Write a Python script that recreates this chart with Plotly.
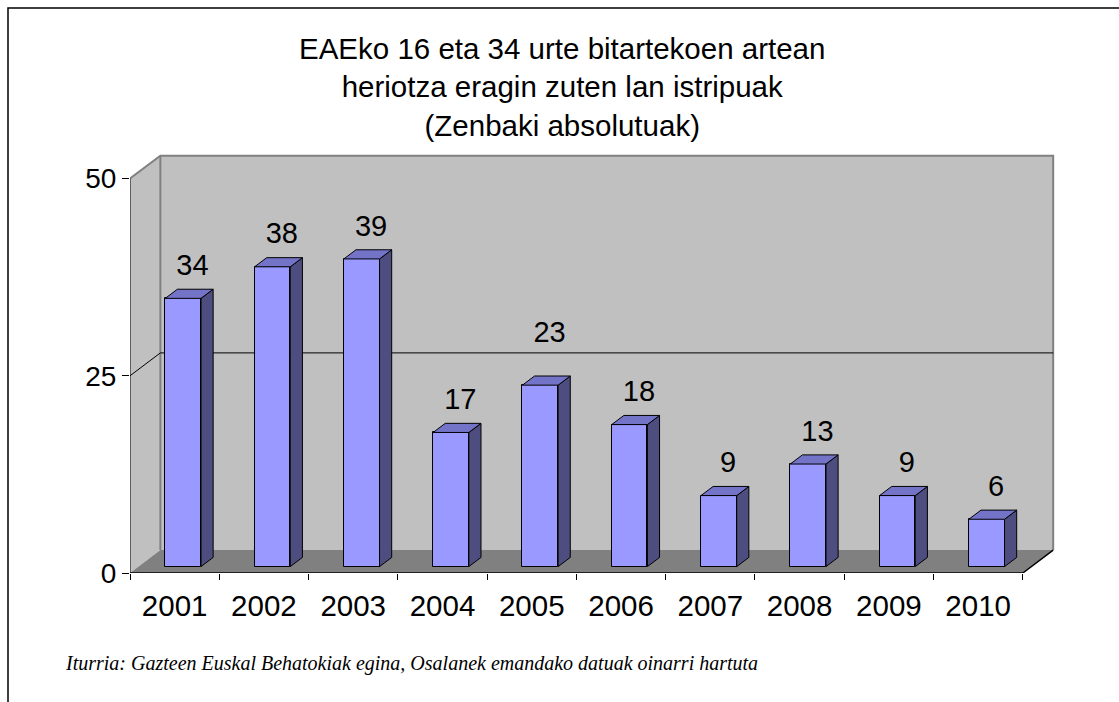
import plotly.graph_objects as go

# ---- data ----
years = ["2001", "2002", "2003", "2004", "2005", "2006", "2007", "2008", "2009", "2010"]
deaths = [34, 38, 39, 17, 23, 18, 9, 13, 9, 6]
y_ticks = [0, 25, 50]
title_lines = ["EAEko 16 eta 34 urte bitartekoen artean",
               "heriotza eragin zuten lan istripuak",
               "(Zenbaki absolutuak)"]
source_text = "Iturria: Gazteen Euskal Behatokiak egina, Osalanek emandako datuak oinarri hartuta"

# ---- geometry / style ----
N = len(years)
centers = [i + 0.5 for i in range(N)]
WALL_TOP = max(y_ticks)
DX, DY = 0.34, 2.9          # depth offset of the back wall (axis units)
BAR_W = 0.40
F0, FD = 0.28, 0.40         # bar front position / bar depth as fraction of depth
ox0, oy0 = F0 * DX, F0 * DY
bdx, bdy = FD * DX, FD * DY

FRONT = "#9999FF"
TOP = "#7373C8"
SIDE = "#4D4D80"
WALL = "#C0C0C0"
FLOOR = "#808080"
FONT = "Liberation Sans, Arial, sans-serif"

W_FIG, H_FIG = 1119, 702
L, R, T, B = 130, 56, 147, 129
PW, PH = W_FIG - L - R, H_FIG - T - B
X_MAX = N + 0.45
Y_MAX = 54


def px(x):
    return (x - L) / PW


def py(y):
    return (H_FIG - B - y) / PH


x_front = [c + ox0 for c in centers]

fig = go.Figure()

# front faces of the bars
fig.add_trace(go.Bar(
    x=x_front, y=deaths, base=[oy0] * N, width=BAR_W,
    marker=dict(color=FRONT, line=dict(color="black", width=1)),
    hoverinfo="skip", showlegend=False))

# side and top faces
sx, sy = [], []
tx, ty = [], []
for xf, v in zip(x_front, deaths):
    xl, xr = xf - BAR_W / 2, xf + BAR_W / 2
    top = oy0 + v
    sx += [xr, xr + bdx, xr + bdx, xr, xr, None]
    sy += [oy0, oy0 + bdy, top + bdy, top, oy0, None]
    tx += [xl, xr, xr + bdx, xl + bdx, xl, None]
    ty += [top, top, top + bdy, top + bdy, top, None]

fig.add_trace(go.Scatter(x=sx, y=sy, mode="lines", fill="toself", fillcolor=SIDE,
                         line=dict(color="black", width=1), hoverinfo="skip", showlegend=False))
fig.add_trace(go.Scatter(x=tx, y=ty, mode="lines", fill="toself", fillcolor=TOP,
                         line=dict(color="black", width=1), hoverinfo="skip", showlegend=False))

# data labels
label_nudge = {"2005": 2.5}
fig.add_trace(go.Scatter(
    x=[c + 0.2 for c in centers],
    y=[v + 4.7 + label_nudge.get(yr, 0) for yr, v in zip(years, deaths)],
    mode="text", text=[str(v) for v in deaths],
    textfont=dict(family=FONT, size=29, color="black"),
    textposition="middle center", cliponaxis=False, hoverinfo="skip", showlegend=False))

# dummy trace for the boundary-tick axis
fig.add_trace(go.Scatter(x=[0], y=[0], xaxis="x2", yaxis="y", mode="markers",
                         marker=dict(opacity=0), hoverinfo="skip", showlegend=False))

shapes = []
# left side wall
shapes.append(dict(type="path", xref="x", yref="y", layer="below",
                   path=f"M 0,0 L {DX},{DY} L {DX},{WALL_TOP + DY} L 0,{WALL_TOP} Z",
                   fillcolor=WALL, line=dict(width=0)))
# back wall
shapes.append(dict(type="rect", xref="x", yref="y", layer="below",
                   x0=DX, x1=N + DX, y0=DY, y1=WALL_TOP + DY,
                   fillcolor=WALL, line=dict(width=0)))
# floor
shapes.append(dict(type="path", xref="x", yref="y", layer="below",
                   path=f"M 0,0 L {N},0 L {N + DX},{DY} L {DX},{DY} Z",
                   fillcolor=FLOOR, line=dict(width=0)))
# wall edges (gray)
shapes.append(dict(type="path", xref="x", yref="y", layer="below",
                   path=f"M 0,{WALL_TOP} L {DX},{WALL_TOP + DY} L {N + DX},{WALL_TOP + DY} L {N + DX},{DY}",
                   line=dict(color="#808080", width=2)))
shapes.append(dict(type="line", xref="x", yref="y", layer="below",
                   x0=DX, x1=DX, y0=DY, y1=WALL_TOP + DY,
                   line=dict(color="#808080", width=2)))
# gridlines (middle ticks)
for t in y_ticks[1:-1]:
    shapes.append(dict(type="path", xref="x", yref="y", layer="below",
                       path=f"M 0,{t} L {DX},{t + DY} L {N + DX},{t + DY}",
                       line=dict(color="black", width=1)))
# front y axis line
shapes.append(dict(type="line", xref="x", yref="y", layer="below",
                   x0=0, x1=0, y0=0, y1=WALL_TOP, line=dict(color="black", width=1)))
# front floor edge / x axis
shapes.append(dict(type="path", xref="x", yref="y", layer="below",
                   path=f"M 0,0 L {N},0 L {N + DX},{DY}",
                   line=dict(color="black", width=1.5)))
# outer chart border
shapes.append(dict(type="path", xref="paper", yref="paper", layer="above",
                   path=f"M {px(8)},{py(720)} L {px(8)},{py(8)} L {px(1130)},{py(8)}",
                   line=dict(color="black", width=1.5)))

annotations = [
    dict(xref="paper", yref="paper", x=px(562), y=py(87), xanchor="center", yanchor="middle",
         text="<br>".join(title_lines), showarrow=False, align="center",
         font=dict(family=FONT, size=29.5, color="black")),
    dict(xref="paper", yref="paper", x=px(63), y=py(663), xanchor="left", yanchor="middle",
         text=f"<i>{source_text}</i>", showarrow=False, align="left",
         font=dict(family="Liberation Serif, Times New Roman, serif", size=20, color="black")),
]

fig.update_layout(
    width=W_FIG, height=H_FIG,
    margin=dict(l=L, r=R, t=T, b=B, pad=0),
    paper_bgcolor="white", plot_bgcolor="white",
    showlegend=False, bargap=0,
    shapes=shapes, annotations=annotations,
    xaxis=dict(range=[0, X_MAX], tickvals=centers, ticktext=years, ticks="",
               showgrid=False, zeroline=False, showline=False,
               tickfont=dict(family=FONT, size=29.5, color="black"),
               ticklabelstandoff=12, fixedrange=True),
    xaxis2=dict(range=[0, X_MAX], overlaying="x", anchor="y", side="bottom",
                tickvals=list(range(N + 1)), ticks="outside", ticklen=6,
                tickcolor="black", tickwidth=1, showticklabels=False,
                showgrid=False, zeroline=False, showline=False, fixedrange=True),
    yaxis=dict(range=[0, Y_MAX], tickvals=y_ticks, ticks="outside", ticklen=7,
               tickcolor="black", tickwidth=1,
               showgrid=False, zeroline=False, showline=False,
               tickfont=dict(family=FONT, size=28, color="black"),
               ticklabelstandoff=0, fixedrange=True),
)

fig.write_html("out.html", config={"displayModeBar": False},
               post_script="document.body.style.margin='0';")
